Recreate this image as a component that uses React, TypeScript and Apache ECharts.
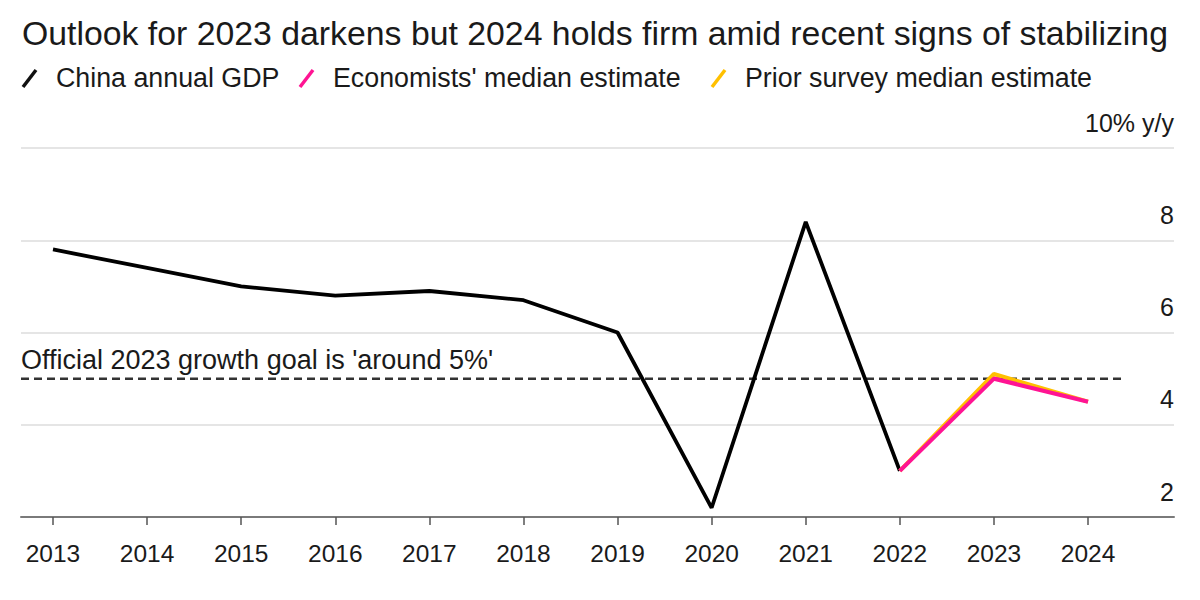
import React, { useEffect, useRef } from "react";
import * as echarts from "echarts";

const years = [2013, 2014, 2015, 2016, 2017, 2018, 2019, 2020, 2021, 2022, 2023, 2024];
const gdp = [7.8, 7.4, 7.0, 6.8, 6.9, 6.7, 6.0, 2.2, 8.4, 3.0];
const econYears = [2022, 2023, 2024];
const econ = [3.0, 5.0, 4.5];
const prior = [3.0, 5.1, 4.5];
const goalValue = 5;
const goalRange = [2012.66, 2024.37];
const yTicks = [2, 4, 6, 8, 10];

const FONT = "'Liberation Sans', Arial, Helvetica, sans-serif";

export default function App() {
  const ref = useRef<HTMLDivElement>(null);
  useEffect(() => {
    const chart = echarts.init(ref.current!, null, { renderer: "svg" });
    const legendItems = [
      { x: 56, color: "#111111", text: "China annual GDP" },
      { x: 333, color: "#ff1493", text: "Economists' median estimate" },
      { x: 745, color: "#ffc000", text: "Prior survey median estimate" },
    ];
    const graphic: any[] = [];
    legendItems.forEach((it) => {
      graphic.push({
        type: "line",
        shape: { x1: it.x - 33, y1: 87, x2: it.x - 20, y2: 70 },
        style: { stroke: it.color, lineWidth: 3.5 },
      });
      graphic.push({
        type: "text",
        x: it.x,
        y: 78,
        style: {
          text: it.text,
          fill: "#1a1a1a",
          font: `26.8px ${FONT}`,
          textVerticalAlign: "middle",
        },
      });
    });
    graphic.push({
      type: "text",
      x: 21,
      y: 360,
      style: {
        text: "Official 2023 growth goal is 'around 5%'",
        fill: "#1a1a1a",
        font: `27px ${FONT}`,
        textVerticalAlign: "middle",
      },
    });

    chart.setOption({
      animation: false,
      backgroundColor: "#ffffff",
      title: {
        text: "Outlook for 2023 darkens but 2024 holds firm amid recent signs of stabilizing",
        left: 17,
        top: 11,
        textStyle: { fontFamily: FONT, fontSize: 33.8, fontWeight: "normal", color: "#1a1a1a" },
      },
      graphic,
      grid: { left: 21, right: 26, top: 148, bottom: 83, containLabel: false },
      xAxis: {
        type: "value",
        min: 2012.66,
        max: 2024.914,
        splitLine: { show: false },
        axisLine: { show: true, lineStyle: { color: "#7a7a7a", width: 2 } },
        axisTick: {
          show: true,
          customValues: years,
          length: 8,
          lineStyle: { color: "#555", width: 1.5 },
        },
        axisLabel: {
          customValues: years,
          formatter: (v: number) => String(v),
          color: "#1a1a1a",
          fontFamily: FONT,
          fontSize: 24.5,
          margin: 24,
        },
      },
      yAxis: {
        type: "value",
        position: "right",
        min: 2,
        max: 10,
        interval: 2,
        axisLine: { show: false },
        axisTick: { show: false },
        splitLine: { show: true, lineStyle: { color: "#dcdcdc", width: 1.5 } },
        axisLabel: {
          inside: true,
          margin: 0,
          align: "right",
          verticalAlign: "bottom",
          padding: [0, 0, 13, 0],
          color: "#1a1a1a",
          fontFamily: FONT,
          fontSize: 25,
          formatter: (v: number) => (v === 10 ? "10% y/y" : yTicks.includes(v) ? String(v) : ""),
        },
      },
      series: [
        {
          type: "line",
          data: [
            [goalRange[0], goalValue],
            [goalRange[1], goalValue],
          ],
          symbol: "none",
          lineStyle: { color: "#333333", width: 2.5, type: [8, 5] },
          z: 1,
        },
        {
          type: "line",
          data: gdp.map((v, i) => [years[i], v]),
          symbol: "none",
          lineStyle: { color: "#000000", width: 3.8 },
          z: 3,
        },
        {
          type: "line",
          data: prior.map((v, i) => [econYears[i], v]),
          symbol: "none",
          lineStyle: { color: "#ffc000", width: 4 },
          z: 4,
        },
        {
          type: "line",
          data: econ.map((v, i) => [econYears[i], v]),
          symbol: "none",
          lineStyle: { color: "#ff1493", width: 4.2 },
          z: 5,
        },
      ],
    });
    return () => chart.dispose();
  }, []);
  return (
    <div
      ref={ref}
      style={{ position: "fixed", left: 0, top: 0, width: 1200, height: 600 }}
    />
  );
}
